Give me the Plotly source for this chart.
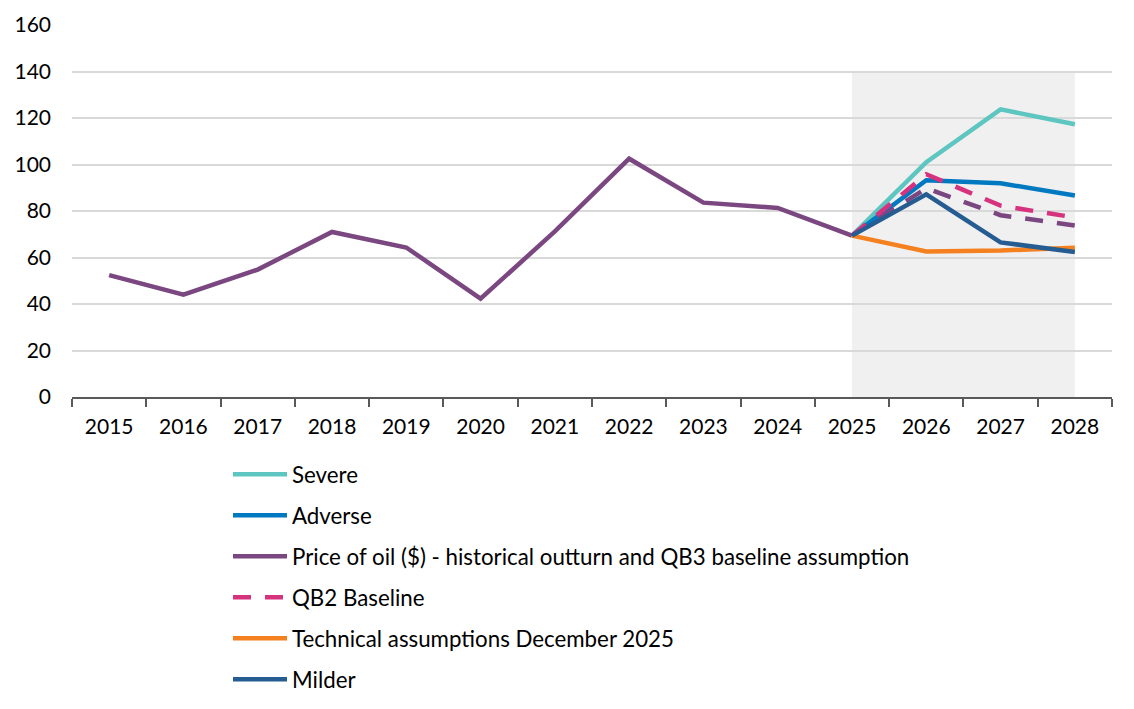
import plotly.graph_objects as go

years = ['2015', '2016', '2017', '2018', '2019', '2020', '2021', '2022',
         '2023', '2024', '2025', '2026', '2027', '2028']
hist_years = years[:11]
proj_years = years[10:]

oil_hist = [52.4, 44.0, 54.8, 71.0, 64.3, 42.3, 71.2, 102.5, 83.6, 81.3, 69.4]
oil_qb3 = [69.4, 89.8, 78.2, 73.8]   # dashed continuation, not in legend
severe = [69.4, 101.0, 123.7, 117.3]
adverse = [69.4, 93.2, 91.9, 86.7]
qb2 = [69.4, 95.8, 82.3, 77.2]
technical = [69.4, 62.6, 63.0, 64.2]
milder = [69.4, 87.2, 66.5, 62.4]

band_top = 140

fig = go.Figure()

w = 4.5
dash = '18px,14px'
fig.add_trace(go.Scatter(x=proj_years, y=severe, name='Severe', mode='lines',
                         line=dict(color='#5EC6C0', width=w), legendgroup='a'))
fig.add_trace(go.Scatter(x=proj_years, y=adverse, name='Adverse', mode='lines',
                         line=dict(color='#0079C1', width=w), legendgroup='b'))
fig.add_trace(go.Scatter(x=hist_years, y=oil_hist,
                         name='Price of oil ($) - historical outturn and QB3 baseline assumption',
                         mode='lines', line=dict(color='#7B4781', width=w), legendgroup='c'))
fig.add_trace(go.Scatter(x=proj_years, y=oil_qb3, showlegend=False, mode='lines',
                         line=dict(color='#7B4781', width=w, dash=dash), legendgroup='c'))
fig.add_trace(go.Scatter(x=proj_years, y=qb2, name='QB2 Baseline', mode='lines',
                         line=dict(color='#D6327E', width=w, dash=dash), legendgroup='d'))
fig.add_trace(go.Scatter(x=proj_years, y=technical, name='Technical assumptions December 2025',
                         mode='lines', line=dict(color='#F5801F', width=w), legendgroup='e'))
fig.add_trace(go.Scatter(x=proj_years, y=milder, name='Milder', mode='lines',
                         line=dict(color='#255C91', width=w), legendgroup='f'))

# projection period shading (category index positions)
fig.add_shape(type='rect', xref='x', yref='y',
              x0=years.index(proj_years[0]), x1=years.index(proj_years[-1]),
              y0=0, y1=band_top, fillcolor='#F0F0F0', line_width=0, layer='below')

fig.update_layout(
    width=1134, height=709,
    margin=dict(l=64, r=30, t=17, b=320, autoexpand=False),
    plot_bgcolor='white', paper_bgcolor='white',
    font=dict(family='Lato, sans-serif', size=22, color='#000000'),
    showlegend=True,
    legend=dict(x=0.15, y=0.372, xref='paper', yref='container',
                xanchor='left', yanchor='top',
                orientation='v', traceorder='grouped', tracegroupgap=9,
                itemwidth=54, font=dict(size=22.3)),
    xaxis=dict(type='category', categoryorder='array', categoryarray=years,
               range=[-0.5, len(years) - 0.5], tickangle=0,
               tickson='boundaries', ticks='outside', ticklen=8,
               tickcolor='#595959', tickwidth=2, showline=True, linecolor='#595959',
               linewidth=2, showgrid=False, tickfont=dict(size=21),
               ticklabelstandoff=10),
    yaxis=dict(range=[0, 160], dtick=20, showgrid=True, gridcolor='#D9D9D9',
               gridwidth=2, zeroline=False, showline=False, ticks='',
               tickfont=dict(size=21), ticklabelstandoff=20),
)

fig.write_html("out.html")
